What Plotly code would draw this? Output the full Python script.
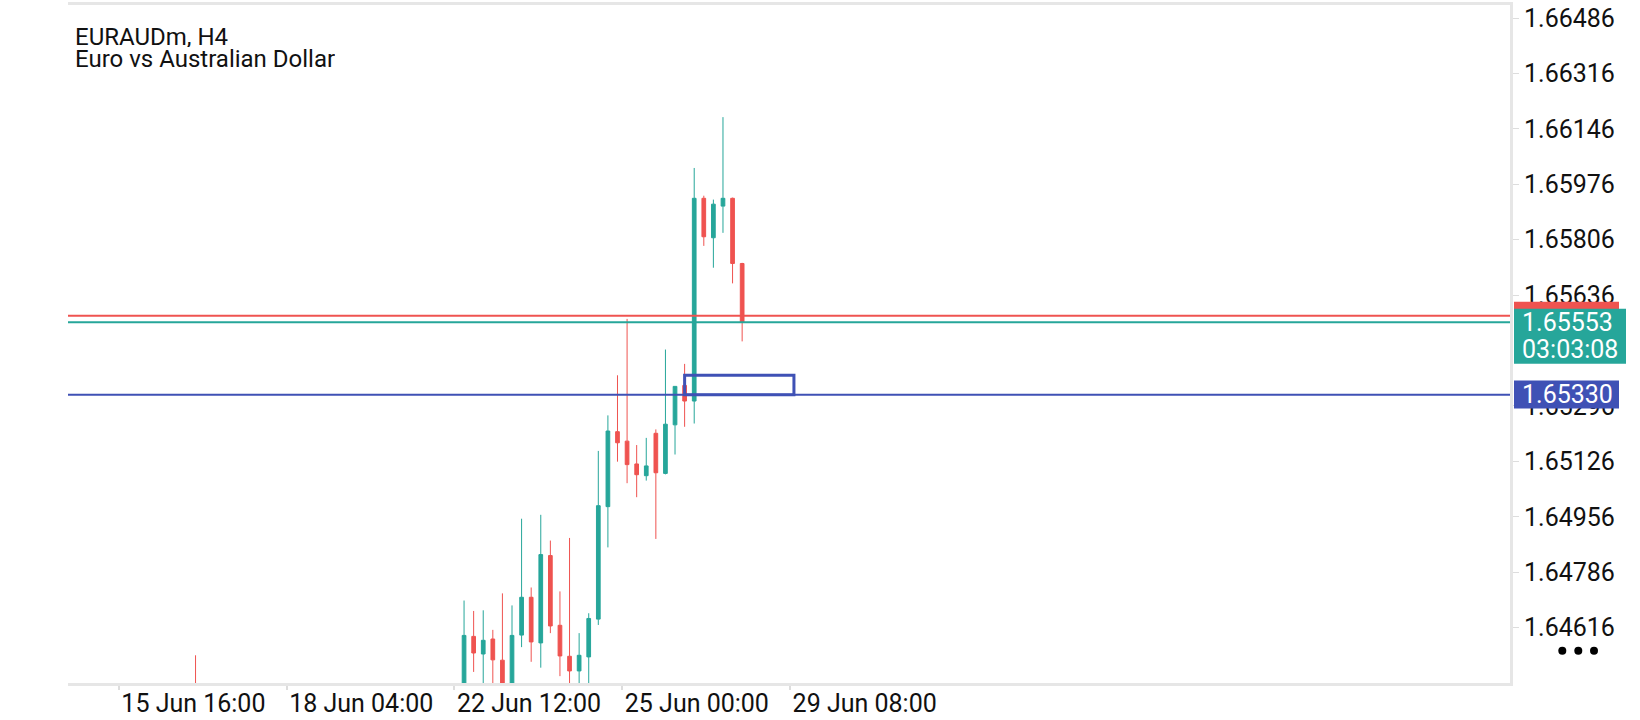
import plotly.graph_objects as go

# H4 bars, x = bar index (0 = first bar of the visible rally)
bar_idx = [-28] + list(range(30))
opens = [1.64420, 1.64420, 1.64589, 1.64535, 1.64581, 1.64516, 1.64420, 1.64593, 1.64709, 1.64569,
         1.64837, 1.64623, 1.64528, 1.64483, 1.64526, 1.64642, 1.64987, 1.65217, 1.65188, 1.65118,
         1.65082, 1.65212, 1.65089, 1.65238, 1.65359, 1.65311, 1.65933, 1.65812, 1.65909, 1.65933,
         1.65733]
highs = [1.64531, 1.64699, 1.64667, 1.64669, 1.64609, 1.64721, 1.64684, 1.64950, 1.64739, 1.64962,
         1.64883, 1.64727, 1.64891, 1.64599, 1.64660, 1.65158, 1.65267, 1.65390, 1.65563, 1.65176,
         1.65198, 1.65224, 1.65469, 1.65356, 1.65425, 1.66026, 1.65941, 1.65929, 1.66182, 1.65935,
         1.65735]
lows = [1.64380, 1.64400, 1.64480, 1.64430, 1.64420, 1.64390, 1.64400, 1.64556, 1.64511, 1.64493,
        1.64599, 1.64467, 1.64420, 1.64430, 1.64430, 1.64624, 1.64862, 1.65125, 1.65059, 1.65016,
        1.65067, 1.64888, 1.65086, 1.65147, 1.65232, 1.65242, 1.65787, 1.65720, 1.65827, 1.65672,
        1.65494]
closes = [1.64400, 1.64592, 1.64538, 1.64577, 1.64517, 1.64410, 1.64592, 1.64709, 1.64572, 1.64840,
          1.64621, 1.64529, 1.64483, 1.64531, 1.64644, 1.64990, 1.65219, 1.65183, 1.65116, 1.65085,
          1.65112, 1.65091, 1.65240, 1.65356, 1.65311, 1.65933, 1.65815, 1.65915, 1.65933, 1.65733,
          1.65553]

time_ticks = [-36, -18.5, -1, 16.5, 34]
time_labels = ["15 Jun 16:00", "18 Jun 04:00", "22 Jun 12:00", "25 Jun 00:00", "29 Jun 08:00"]
# 1.65466 sits fully under the bid tag, so it is left out
price_ticks = [1.64616, 1.64786, 1.64956, 1.65126, 1.65296,
               1.65636, 1.65806, 1.65976, 1.66146, 1.66316, 1.66486]

ask_price = 1.65573
bid_price = 1.65553
level_price = 1.65330
countdown = "03:03:08"
zone_x = [23, 34.4]
zone_y = [1.65330, 1.65390]

GREEN = "#26A69A"
RED = "#EF5350"
BLUE = "#3F51B5"
BORDER = "#e6e6e6"

fig = go.Figure()

fig.add_trace(go.Candlestick(
    x=bar_idx, open=opens, high=highs, low=lows, close=closes,
    increasing=dict(line=dict(color=GREEN, width=1), fillcolor=GREEN),
    decreasing=dict(line=dict(color=RED, width=1), fillcolor=RED),
    whiskerwidth=0,
    hoverinfo="skip",
))

# horizontal price lines
for price, color in [(ask_price, RED), (bid_price, GREEN), (level_price, BLUE)]:
    fig.add_shape(type="line", xref="paper", x0=0, x1=1, yref="y", y0=price, y1=price,
                  line=dict(color=color, width=2), layer="above")

# rectangle object
fig.add_shape(type="rect", xref="x", yref="y", x0=zone_x[0], x1=zone_x[1],
              y0=zone_y[0], y1=zone_y[1], line=dict(color=BLUE, width=3), layer="above")

# price tags on the right scale
tags = [(ask_price, RED, -14, 14, 109), (bid_price, GREEN, -41.5, 13.5, 116),
        (level_price, BLUE, -13.6, 14.4, 109)]
for price, color, ylo, yhi, xr in tags:
    fig.add_shape(type="rect", xref="paper", xsizemode="pixel", xanchor=1, x0=4, x1=xr,
                  yref="y", ysizemode="pixel", yanchor=price, y0=ylo, y1=yhi,
                  fillcolor=color, line=dict(width=0), layer="above")

tag_font = dict(family="Roboto", size=25, color="white")
fig.add_annotation(xref="paper", x=1, xanchor="left", xshift=10, yref="y", y=bid_price,
                   yanchor="middle", text=f"{bid_price:.5f}", showarrow=False, font=tag_font)
fig.add_annotation(xref="paper", x=1, xanchor="left", xshift=10, yref="y", y=bid_price,
                   yanchor="middle", yshift=-27.5, text=countdown, showarrow=False, font=tag_font)
fig.add_annotation(xref="paper", x=1, xanchor="left", xshift=10, yref="y", y=level_price,
                   yanchor="middle", text=f"{level_price:.5f}", showarrow=False, font=tag_font)

# three-dot menu
for dx in [52.3, 68.3, 84]:
    fig.add_shape(type="circle", xref="paper", xsizemode="pixel", xanchor=1, x0=dx - 4, x1=dx + 4,
                  yref="paper", ysizemode="pixel", yanchor=0.0474, y0=-4, y1=4,
                  fillcolor="black", line=dict(width=0), layer="above")

title_font = dict(family="Roboto", size=24, color="#111111")
fig.add_annotation(xref="paper", x=0.0042, xanchor="left", yref="paper", y=0.9531, yanchor="middle",
                   height=21, borderpad=0, valign="middle",
                   text="EURAUDm, H4", showarrow=False, font=title_font)
fig.add_annotation(xref="paper", x=0.0042, xanchor="left", yref="paper", y=0.9208, yanchor="middle",
                   height=21, borderpad=0, valign="middle",
                   text="Euro vs Australian Dollar", showarrow=False, font=title_font)

fig.update_layout(
    width=1640, height=720,
    margin=dict(l=68, r=130, t=2, b=36),
    paper_bgcolor="white", plot_bgcolor="white",
    showlegend=False,
    boxgap=0.45,
    font=dict(family="Roboto", size=25, color="#111111"),
    xaxis=dict(range=[-41.3, 109.07], rangeslider=dict(visible=False),
               tickmode="array", tickvals=time_ticks, ticktext=time_labels,
               ticklabelposition="outside right", ticks="outside", ticklen=4,
               tickcolor="#dddddd", tickwidth=2, ticklabelstandoff=-4,
               showline=True, mirror=True, linecolor=BORDER, linewidth=3,
               showgrid=False, zeroline=False),
    yaxis=dict(side="right", range=[1.64446, 1.66526],
               tickmode="array", tickvals=price_ticks, tickformat=".5f",
               ticks="outside", ticklen=6, tickcolor="#dddddd",
               showline=True, linecolor=BORDER, linewidth=3,
               showgrid=False, zeroline=False),
)

# drop the browser's default page margin so the figure sits at the window corner
fig.write_html("out.html", config={"displayModeBar": False},
               post_script="document.body.style.margin = '0';")
